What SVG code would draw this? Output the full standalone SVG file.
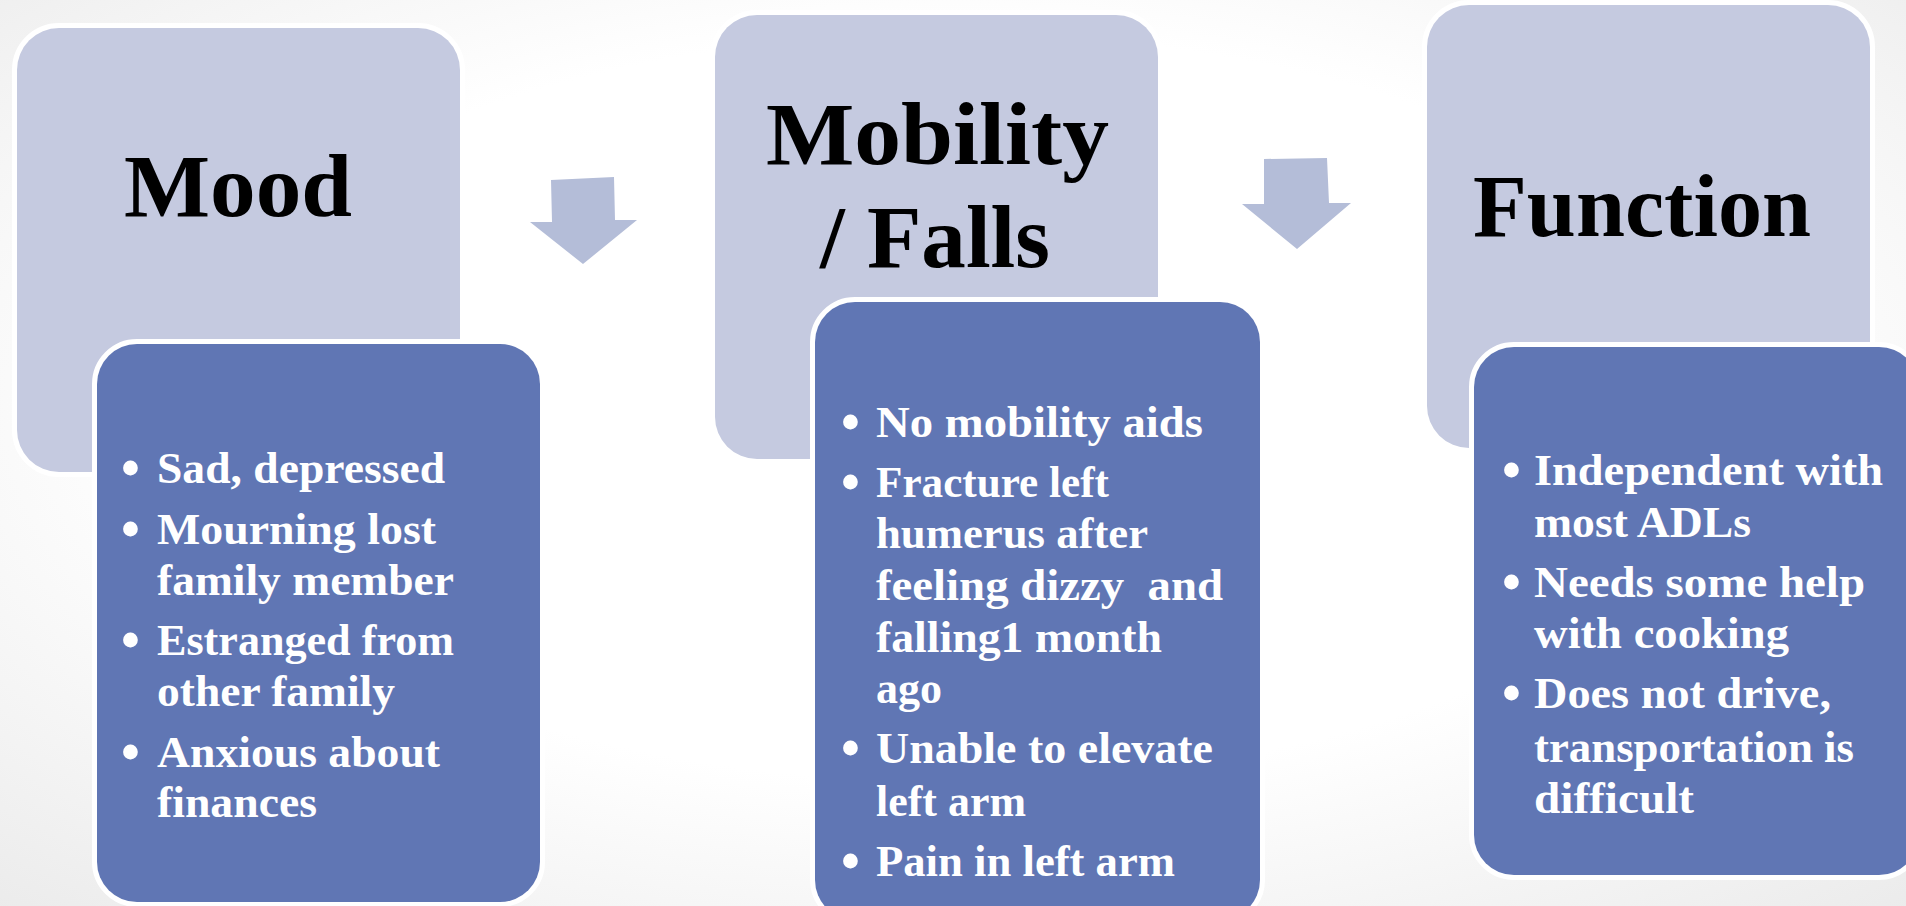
<svg xmlns="http://www.w3.org/2000/svg" width="1906" height="906" viewBox="0 0 1906 906">
<defs>
<radialGradient id="bg" cx="50%" cy="45%" r="75%">
<stop offset="0" stop-color="#ffffff"/>
<stop offset="0.55" stop-color="#ffffff"/>
<stop offset="1" stop-color="#ebebeb"/>
</radialGradient>
<style>
.light{fill:#C5CAE0;stroke:#ffffff;stroke-width:10;paint-order:stroke}
.dark{fill:#6076B4;stroke:#ffffff;stroke-width:10;paint-order:stroke}
.arrow{fill:#B4BDD8}
.title{font-family:"Liberation Serif","Times New Roman",serif;font-weight:bold;font-size:88px;fill:#000000}
.body{font-family:"Liberation Serif","Times New Roman",serif;font-weight:bold;font-size:44px;fill:#ffffff}
.dot{font-family:"Liberation Serif","Times New Roman",serif;font-weight:bold;font-size:54px;fill:#ffffff}
</style>
</defs>
<rect x="0" y="0" width="1906" height="906" fill="url(#bg)"/>

<g id="mood">
<rect class="light" x="17" y="28" width="443" height="444" rx="42" ry="42"/>
<text class="title" x="124" y="216" textLength="228" lengthAdjust="spacingAndGlyphs">Mood</text>
</g>
<g id="mood-details">
<rect class="dark" x="97" y="344" width="443" height="558" rx="40" ry="40"/>
<text class="dot" x="121" y="486">•</text>
<text class="body" x="157" y="483" textLength="288" lengthAdjust="spacingAndGlyphs">Sad, depressed</text>
<text class="dot" x="121" y="547">•</text>
<text class="body" x="157" y="544" textLength="279" lengthAdjust="spacingAndGlyphs">Mourning lost</text>
<text class="body" x="157" y="595" textLength="297" lengthAdjust="spacingAndGlyphs">family member</text>
<text class="dot" x="121" y="658">•</text>
<text class="body" x="157" y="655" textLength="297" lengthAdjust="spacingAndGlyphs">Estranged from</text>
<text class="body" x="157" y="706" textLength="238" lengthAdjust="spacingAndGlyphs">other family</text>
<text class="dot" x="121" y="770">•</text>
<text class="body" x="157" y="767" textLength="283" lengthAdjust="spacingAndGlyphs">Anxious about</text>
<text class="body" x="157" y="817" textLength="160" lengthAdjust="spacingAndGlyphs">finances</text>
</g>

<g id="mobility">
<rect class="light" x="715" y="15" width="443" height="444" rx="42" ry="42"/>
<text class="title" x="766" y="164" textLength="343" lengthAdjust="spacingAndGlyphs">Mobility</text>
<text class="title" x="820" y="267" textLength="230" lengthAdjust="spacingAndGlyphs">/ Falls</text>
</g>
<g id="mobility-details">
<rect class="dark" x="815" y="302" width="445" height="618" rx="40" ry="40"/>
<text class="dot" x="841" y="440">•</text>
<text class="body" x="876" y="437" textLength="327" lengthAdjust="spacingAndGlyphs">No mobility aids</text>
<text class="dot" x="841" y="500">•</text>
<text class="body" x="876" y="497" textLength="233" lengthAdjust="spacingAndGlyphs">Fracture left</text>
<text class="body" x="876" y="548" textLength="272" lengthAdjust="spacingAndGlyphs">humerus after</text>
<text class="body" x="876" y="600" textLength="347" lengthAdjust="spacingAndGlyphs" xml:space="preserve">feeling dizzy  and</text>
<text class="body" x="876" y="652" textLength="286" lengthAdjust="spacingAndGlyphs">falling1 month</text>
<text class="body" x="876" y="703" textLength="66" lengthAdjust="spacingAndGlyphs">ago</text>
<text class="dot" x="841" y="766">•</text>
<text class="body" x="876" y="763" textLength="337" lengthAdjust="spacingAndGlyphs">Unable to elevate</text>
<text class="body" x="876" y="816" textLength="150" lengthAdjust="spacingAndGlyphs">left arm</text>
<text class="dot" x="841" y="879">•</text>
<text class="body" x="876" y="876" textLength="299" lengthAdjust="spacingAndGlyphs">Pain in left arm</text>
</g>

<g id="function">
<rect class="light" x="1427" y="5" width="443" height="443" rx="42" ry="42"/>
<text class="title" x="1473" y="236" textLength="338" lengthAdjust="spacingAndGlyphs">Function</text>
</g>
<g id="function-details">
<rect class="dark" x="1474" y="347" width="445" height="528" rx="40" ry="40"/>
<text class="dot" x="1502" y="488">•</text>
<text class="body" x="1534" y="485" textLength="349" lengthAdjust="spacingAndGlyphs">Independent with</text>
<text class="body" x="1534" y="537" textLength="217" lengthAdjust="spacingAndGlyphs">most ADLs</text>
<text class="dot" x="1502" y="600">•</text>
<text class="body" x="1534" y="597" textLength="331" lengthAdjust="spacingAndGlyphs">Needs some help</text>
<text class="body" x="1534" y="648" textLength="255" lengthAdjust="spacingAndGlyphs">with cooking</text>
<text class="dot" x="1502" y="711">•</text>
<text class="body" x="1534" y="708" textLength="297" lengthAdjust="spacingAndGlyphs">Does not drive,</text>
<text class="body" x="1534" y="762" textLength="320" lengthAdjust="spacingAndGlyphs">transportation is</text>
<text class="body" x="1534" y="813" textLength="160" lengthAdjust="spacingAndGlyphs">difficult</text>
</g>

<g id="connectors">
<polygon class="arrow" points="551,180 614,177 615,220 637,220 583,264 530,222 552,222"/>
<polygon class="arrow" points="1264,159 1327,158 1329,203 1351,203 1297,249 1242,204 1264,204"/>
</g>
</svg>
